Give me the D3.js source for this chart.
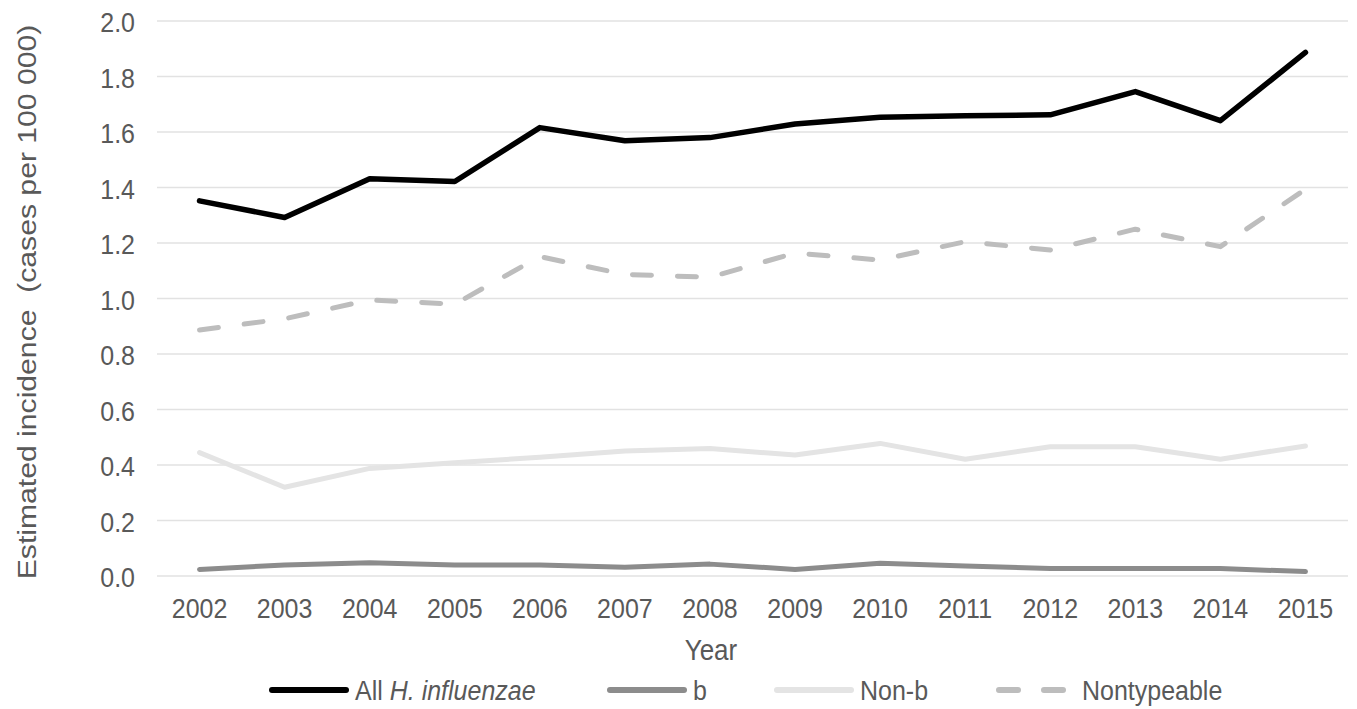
<!DOCTYPE html>
<html>
<head>
<meta charset="utf-8">
<script src="https://cdn.jsdelivr.net/npm/d3@7"></script>
<style>
  body { margin: 0; background: #fff; }
  text { font-family: "Liberation Sans", Arial, sans-serif; }
  .axis text { fill: #595959; font-size: 25px; }
  .axis path, .axis line { display: none; }
  .grid line { stroke: #e2e2e2; stroke-width: 1.5px; }
  .grid path { display: none; }
</style>
</head>
<body>
<div class="line-chart-container"></div>
<script>
// Data.
const years = ['2002', '2003', '2004', '2005', '2006', '2007', '2008',
  '2009', '2010', '2011', '2012', '2013', '2014', '2015'];

const allHi = [1.35, 1.29, 1.43, 1.42, 1.614, 1.567, 1.578,
  1.627, 1.651, 1.657, 1.66, 1.744, 1.639, 1.885];
const typeB = [0.022, 0.038, 0.046, 0.038, 0.038, 0.03, 0.041,
  0.022, 0.044, 0.034, 0.025, 0.025, 0.025, 0.014];
const nonB = [0.443, 0.318, 0.386, 0.406, 0.426, 0.449, 0.458,
  0.434, 0.476, 0.419, 0.464, 0.464, 0.419, 0.467];
const nontypeable = [0.885, 0.925, 0.993, 0.978, 1.149, 1.085, 1.075,
  1.162, 1.137, 1.203, 1.173, 1.248, 1.185, 1.392];

const yTicks = [0, 0.2, 0.4, 0.6, 0.8, 1.0, 1.2, 1.4, 1.6, 1.8, 2.0];

const seriesNames = ['All H. influenzae', 'b', 'Non-b', 'Nontypeable'];

// Series styles.
const series = [
  {name: seriesNames[0], values: allHi, color: '#000000', width: 5.5, dash: null},
  {name: seriesNames[1], values: typeB, color: '#8c8c8c', width: 5, dash: null},
  {name: seriesNames[2], values: nonB, color: '#e4e4e4', width: 5, dash: null},
  {name: seriesNames[3], values: nontypeable, color: '#bdbdbd', width: 5, dash: '19,26'}
];

// The source picture is a little taller than wide, so text gets stretched.
const stretchY = 1.12;

// Margin convention.
const margin = {top: 20.5, right: 9, bottom: 133.5, left: 157};
const width = 1357 - margin.left - margin.right;
const height = 709 - margin.top - margin.bottom;

// Scales.
const xScale = d3
  .scaleBand()
  .domain(years)
  .range([0, width]);

const yScale = d3
  .scaleLinear()
  .domain([0, 2])
  .range([height, 0]);

// Draw base.
const svg = d3.select('.line-chart-container')
  .append('svg')
  .attr('width', 1357)
  .attr('height', 709)
  .append('g')
  .attr('transform', `translate(${margin.left}, ${margin.top})`);

// Gridlines.
svg
  .append('g')
  .attr('class', 'grid')
  .call(d3.axisLeft(yScale).tickValues(yTicks).tickSize(-width).tickFormat(''));

// Axes.
const yAxisDraw = svg
  .append('g')
  .attr('class', 'y axis')
  .call(d3.axisLeft(yScale).tickValues(yTicks).tickSize(0).tickFormat(d3.format('.1f')));

yAxisDraw
  .selectAll('text')
  .attr('x', 0)
  .attr('dy', 0)
  .attr('transform', `translate(-22, 11) scale(1, ${stretchY})`);

const xAxisDraw = svg
  .append('g')
  .attr('class', 'x axis')
  .attr('transform', `translate(0, ${height})`)
  .call(d3.axisBottom(xScale).tickSize(0));

xAxisDraw
  .selectAll('text')
  .attr('dy', 0)
  .attr('y', 0)
  .attr('transform', `translate(0, 42) scale(1, ${stretchY})`);

// Axis titles.
svg
  .append('text')
  .attr('transform', `translate(${xScale('2008') + xScale.bandwidth() / 2 + 1}, ${height + 84}) scale(1, ${stretchY})`)
  .attr('text-anchor', 'middle')
  .style('font-size', '26px')
  .style('fill', '#595959')
  .text('Year');

svg
  .append('text')
  .attr('transform', `translate(${-margin.left + 36}, ${302 - margin.top}) rotate(-90) scale(1.16, 1)`)
  .attr('text-anchor', 'middle')
  .style('font-size', '26px')
  .style('fill', '#595959')
  .attr('xml:space', 'preserve')
  .text('Estimated incidence  (cases per 100 000)');

// Draw lines.
const line = d3
  .line()
  .x((d, i) => xScale(years[i]) + xScale.bandwidth() / 2)
  .y(d => yScale(d));

svg
  .selectAll('.series')
  .data(series.slice().reverse())
  .enter()
  .append('path')
  .attr('class', 'series')
  .attr('d', d => line(d.values))
  .style('fill', 'none')
  .style('stroke', d => d.color)
  .style('stroke-width', d => d.width)
  .style('stroke-linejoin', 'round')
  .style('stroke-linecap', 'round')
  .style('stroke-dasharray', d => d.dash);

// Legend.
const legendX = [272, 610, 777, 999];
const legend = d3.select('svg')
  .append('g')
  .attr('transform', 'translate(0, 690)');

const items = legend
  .selectAll('.legend-item')
  .data(series)
  .enter()
  .append('g')
  .attr('class', 'legend-item')
  .attr('transform', (d, i) => `translate(${legendX[i]}, 0)`);

items
  .append('line')
  .attr('x1', 0)
  .attr('x2', 74)
  .style('stroke', d => d.color)
  .style('stroke-width', 6)
  .style('stroke-linecap', 'round')
  .style('stroke-dasharray', d => d.dash ? '19,26' : null);

const labels = items
  .append('text')
  .attr('transform', `translate(83, 10) scale(1, ${stretchY})`)
  .style('font-size', '25px')
  .style('fill', '#595959');

labels.each(function(d) {
  const t = d3.select(this);
  if (d.name.startsWith('All')) {
    t.append('tspan').text('All ');
    t.append('tspan').style('font-style', 'italic').text('H. influenzae');
  } else {
    t.text(d.name);
  }
});
</script>
</body>
</html>
